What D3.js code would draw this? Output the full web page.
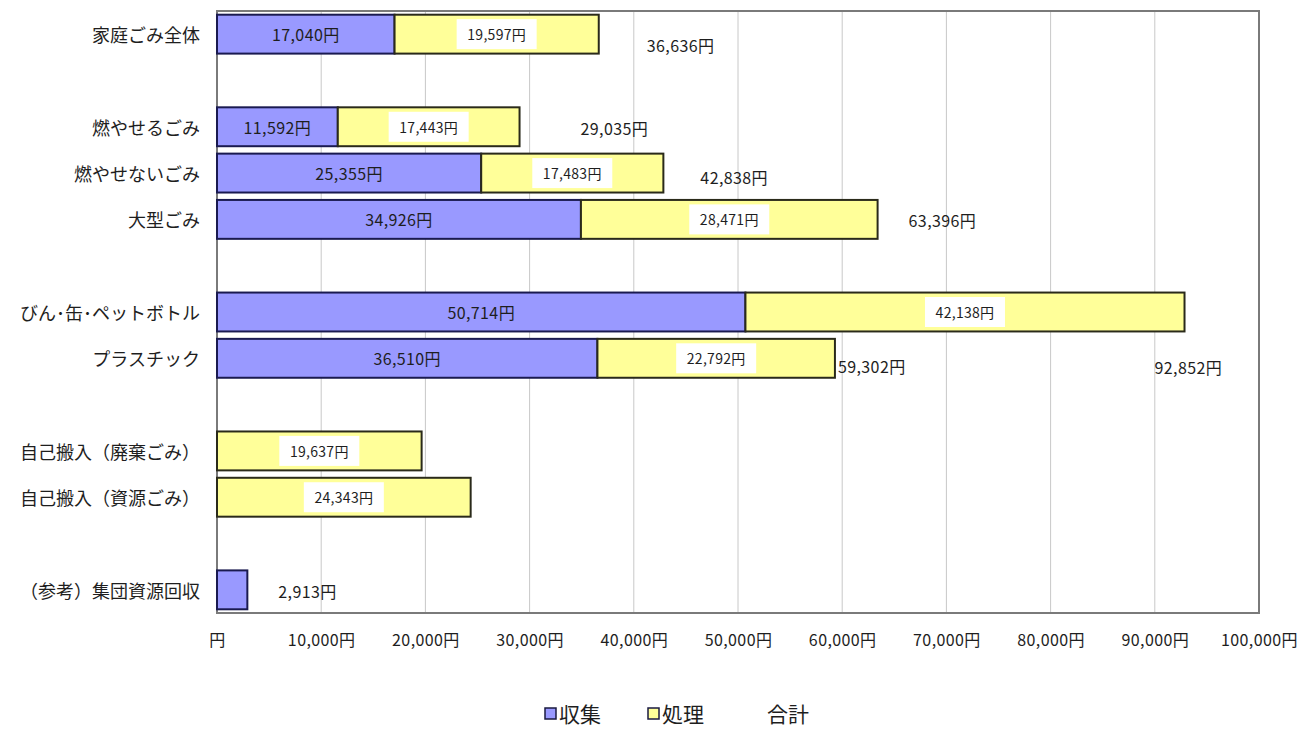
<!DOCTYPE html>
<html>
<head>
<meta charset="utf-8">
<script src="https://cdn.jsdelivr.net/npm/d3@7"></script>
<style>
  body { margin: 0; background: #fff; }
  text { font-family: "Noto Sans CJK JP", "Noto Sans", sans-serif; fill: #1e1e1e; }
</style>
</head>
<body>
<div id="chart"></div>
<script>
// Data (blank rows are spacer rows)
const categories = ["家庭ごみ全体", "", "燃やせるごみ", "燃やせないごみ", "大型ごみ", "",
  "びん･缶･ペットボトル", "プラスチック", "", "自己搬入（廃棄ごみ）", "自己搬入（資源ごみ）", "",
  "（参考）集団資源回収"];
const collect = [17040, null, 11592, 25355, 34926, null, 50714, 36510, null, 0, 0, null, 2913];
const processing = [19597, null, 17443, 17483, 28471, null, 42138, 22792, null, 19637, 24343, null, 0];
const totals = [36636, null, 29035, 42838, 63396, null, 92852, 59302, null, null, null, null, 2913];
const xTicks = [0, 10000, 20000, 30000, 40000, 50000, 60000, 70000, 80000, 90000, 100000];
const seriesNames = ["収集", "処理", "合計"];

// where the total labels sit relative to the bar end (layout only)
const totalDx = [48, 0, 61, 37, 31, 0, -30, 3, 0, 0, 0, 0, 31];
const totalDy = [11, 0, 1, 4, 1, 0, 55, 8, 0, 0, 0, 0, 1];

const width = 1304, height = 729;
const plot = { left: 217, right: 1259, top: 11, bottom: 613 };
const blue = "#9999ff", yellow = "#ffff99";

const svg = d3.select("#chart").append("svg")
  .attr("width", width).attr("height", height);

const x = d3.scaleLinear().domain([0, 100000]).range([plot.left, plot.right]);
const y = d3.scaleBand().domain(d3.range(categories.length))
  .range([plot.top, plot.bottom]).paddingInner(0.16).paddingOuter(0.08);

const fmt = d3.format(",");

// grid lines
svg.append("g").selectAll("line")
  .data(xTicks.slice(1, -1))
  .join("line")
  .attr("x1", d => x(d)).attr("x2", d => x(d))
  .attr("y1", plot.top).attr("y2", plot.bottom)
  .attr("stroke", "#c8c8c8").attr("stroke-width", 1);

// frame
svg.append("rect")
  .attr("x", plot.left).attr("y", plot.top)
  .attr("width", plot.right - plot.left).attr("height", plot.bottom - plot.top)
  .attr("fill", "none").attr("stroke", "#7a7a7a").attr("stroke-width", 2);

// x axis tick labels
const xAxis = d3.axisBottom(x).tickValues(xTicks)
  .tickFormat(d => d === 0 ? "円" : fmt(d) + "円").tickSize(0).tickPadding(22);
const gx = svg.append("g").attr("transform", `translate(0,${plot.bottom})`).call(xAxis);
gx.select(".domain").remove();
gx.selectAll("text").style("font-size", "16px").style("letter-spacing", "0.4px")
  .attr("fill", "#1e1e1e").attr("font-family", "'Noto Sans CJK JP', sans-serif");

// category labels
svg.append("g").selectAll("text")
  .data(categories)
  .join("text")
  .attr("x", 200)
  .attr("y", (d, i) => y(i) + y.bandwidth() / 2)
  .attr("text-anchor", "end")
  .attr("dominant-baseline", "central")
  .style("font-size", "18px")
  .text(d => d);

const rows = categories.map((c, i) => ({ i, c: collect[i], p: processing[i], t: totals[i] }))
  .filter(r => r.c !== null);

// collection bars
svg.append("g").selectAll("rect")
  .data(rows.filter(r => r.c > 0))
  .join("rect")
  .attr("x", x(0)).attr("y", r => y(r.i))
  .attr("width", r => x(r.c) - x(0)).attr("height", y.bandwidth())
  .attr("fill", blue).attr("stroke", "#1a1a50").attr("stroke-width", 2);

// processing bars
svg.append("g").selectAll("rect")
  .data(rows.filter(r => r.p > 0))
  .join("rect")
  .attr("x", r => x(r.c)).attr("y", r => y(r.i))
  .attr("width", r => x(r.c + r.p) - x(r.c)).attr("height", y.bandwidth())
  .attr("fill", yellow).attr("stroke", "#2a2a1a").attr("stroke-width", 2);

// collection value labels (inside bars, only when wide enough)
svg.append("g").selectAll("text")
  .data(rows.filter(r => r.c > 5000))
  .join("text")
  .attr("x", r => (x(0) + x(r.c)) / 2)
  .attr("y", r => y(r.i) + y.bandwidth() / 2)
  .attr("text-anchor", "middle").attr("dominant-baseline", "central")
  .style("font-size", "16px").style("letter-spacing", "0.4px")
  .text(r => fmt(r.c) + "円");

// processing value labels with white boxes
const pl = svg.append("g").selectAll("g")
  .data(rows.filter(r => r.p > 0))
  .join("g")
  .attr("transform", r => `translate(${(x(r.c) + x(r.c + r.p)) / 2},${y(r.i) + y.bandwidth() / 2})`);
pl.append("rect")
  .attr("x", -40).attr("y", -15).attr("width", 80).attr("height", 30)
  .attr("fill", "#fff");
pl.append("text")
  .attr("text-anchor", "middle").attr("dominant-baseline", "central")
  .style("font-size", "14px").style("letter-spacing", "0.3px")
  .text(r => fmt(r.p) + "円");

// total labels
svg.append("g").selectAll("text")
  .data(rows.filter(r => r.t !== null))
  .join("text")
  .attr("x", r => x(r.t) + totalDx[r.i])
  .attr("y", r => y(r.i) + y.bandwidth() / 2 + totalDy[r.i])
  .attr("dominant-baseline", "central")
  .style("font-size", "16px").style("letter-spacing", "0.4px")
  .text(r => fmt(r.t) + "円");

// legend
const legendColors = [blue, yellow, null];
const legendX = [545, 648, 767];
const lg = svg.append("g").selectAll("g")
  .data(seriesNames)
  .join("g")
  .attr("transform", (d, i) => `translate(${legendX[i]},713)`);
lg.filter((d, i) => legendColors[i])
  .append("rect")
  .attr("x", 0).attr("y", -5).attr("width", 11).attr("height", 11)
  .attr("fill", (d, i) => legendColors[i]).attr("stroke", "#1a1a40").attr("stroke-width", 1.5);
lg.append("text")
  .attr("x", (d, i) => legendColors[i] ? 14 : 0)
  .attr("dominant-baseline", "central")
  .style("font-size", "21px")
  .text(d => d);
</script>
</body>
</html>
